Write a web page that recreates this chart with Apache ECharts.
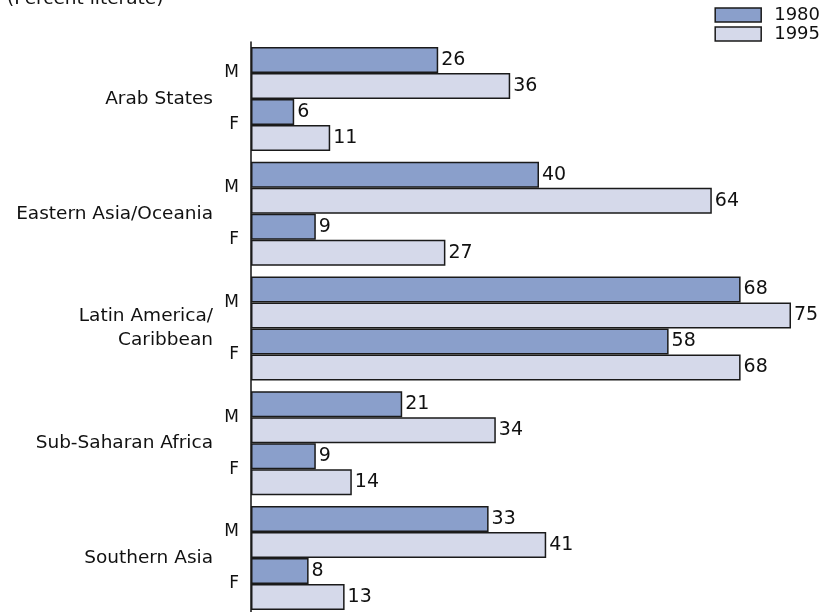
<!DOCTYPE html>
<html><head><meta charset="utf-8">
<script src="https://cdn.jsdelivr.net/npm/echarts@6/dist/echarts.min.js"></script>
<style>html,body{margin:0;padding:0;background:#fff}#c{width:825px;height:612px}</style>
</head><body><div id="c"></div>
<script>
const regions = ['Arab States', 'Eastern Asia/Oceania', 'Latin America/\nCaribbean', 'Sub-Saharan Africa', 'Southern Asia'];
const sexes = ['M', 'F'];
const years = ['1980', '1995'];
// values per region: [M, F]
const v1980 = [[26, 6], [40, 9], [68, 58], [21, 9], [33, 8]];
const v1995 = [[36, 11], [64, 27], [75, 68], [34, 14], [41, 13]];
const titleText = '(Percent literate)';

const FONT = '"DejaVu Sans", sans-serif';
const colors = ['#8a9fcb', '#d5d9ea'];
const chart = echarts.init(document.getElementById('c'));

const grids = [], xAxes = [], yAxes = [], series = [];
const L = 251, W = 540, TOP0 = 47, STEP = 114.75, H = 104;
regions.forEach((r, i) => {
  grids.push({left: L, width: W, top: TOP0 + i * STEP, height: H});
  xAxes.push({type: 'value', gridIndex: i, min: 0, max: 75, show: false});
  yAxes.push({type: 'category', gridIndex: i, data: sexes, inverse: true,
    axisLine: {show: false}, axisTick: {show: false},
    axisLabel: {fontFamily: FONT, fontSize: 17, color: '#111', margin: 12}});
  yAxes.push({type: 'category', gridIndex: i, data: [r], position: 'left', offset: 26,
    axisLine: {show: false}, axisTick: {show: false},
    axisLabel: {fontFamily: FONT, fontSize: 18.5, color: '#111', align: 'right', lineHeight: 24, margin: 12}});
  [v1980, v1995].forEach((vals, k) => {
    series.push({type: 'bar', name: years[k], xAxisIndex: i, yAxisIndex: i * 2,
      data: vals[i], barGap: 0, barCategoryGap: 0,
      itemStyle: {color: colors[k], borderColor: '#1a1a1a', borderWidth: 1.5},
      label: {show: true, position: 'right', distance: 3, fontFamily: FONT, fontSize: 19, color: '#111'},
      silent: true});
  });
});
// full-height axis line
const gi = regions.length;
grids.push({left: L, width: W, top: 42, bottom: 0});
xAxes.push({type: 'value', gridIndex: gi, show: false, min: 0, max: 75});
yAxes.push({type: 'category', gridIndex: gi, data: [''], axisLine: {show: true, lineStyle: {color: '#111', width: 1.5}},
  axisTick: {show: false}, axisLabel: {show: false}});

chart.setOption({
  animation: false,
  title: {text: titleText, left: 2, top: -15, textStyle: {fontFamily: FONT, fontSize: 18.5, fontWeight: 'normal', color: '#111'}},
  legend: {data: years, orient: 'vertical', right: 5, top: 6, itemWidth: 46, itemHeight: 14, itemGap: 1,
    icon: 'rect', padding: 0,
    textStyle: {fontFamily: FONT, fontSize: 18, color: '#111', padding: [0, 0, 0, 8]},
    itemStyle: {borderColor: '#1a1a1a', borderWidth: 1.5}},
  grid: grids, xAxis: xAxes, yAxis: yAxes, series: series
});
</script></body></html>
